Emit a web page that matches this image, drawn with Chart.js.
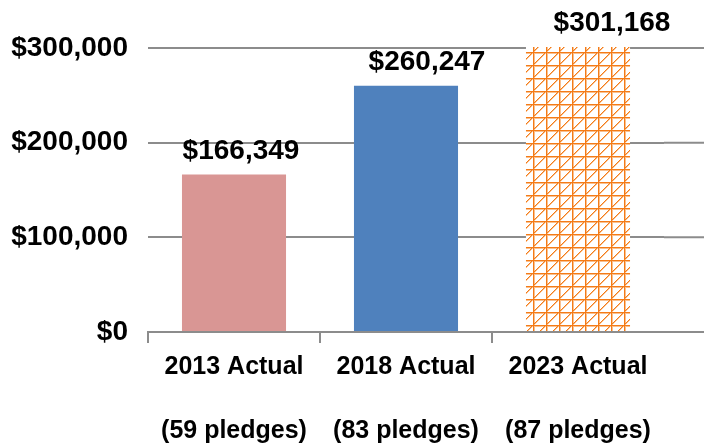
<!DOCTYPE html>
<html>
<head>
<meta charset="utf-8">
<script src="https://cdn.jsdelivr.net/npm/chart.js@4"></script>
<style>
  html, body { margin: 0; padding: 0; background: #fff; overflow: hidden; }
  #wrap { width: 704px; height: 446px; position: relative; }
</style>
</head>
<body>
<div id="wrap"><canvas id="myChart"></canvas></div>
<script>
// chart data
var years = ["2013 Actual", "2018 Actual", "2023 Actual"];
var pledges = ["(59 pledges)", "(83 pledges)", "(87 pledges)"];
var amounts = [166349, 260247, 301168];
var yTicks = [0, 100000, 200000, 300000];

var gridGray = "#8c8c8c";
var fontName = "'Liberation Sans', Arial, sans-serif";

function money(v) {
  return "$" + v.toLocaleString("en-US");
}

// orange crosshatch for the last bar (pixel lines, no smoothing)
function makeHatch() {
  var n = 13;
  var c = document.createElement("canvas");
  c.width = n;
  c.height = n;
  var g = c.getContext("2d");
  g.fillStyle = "#fff";
  g.fillRect(0, 0, n, n);
  // soft edge next to each line
  g.fillStyle = "#f9c08f";
  g.fillRect(1, 0, 1, n);
  g.fillRect(0, 1, n, 1);
  for (var k = 0; k < n; k++) {
    g.fillRect(k, n - k, 1, 1);
  }
  g.fillStyle = "#f47b17";
  g.fillRect(0, 0, 1, n);
  g.fillRect(0, 0, n, 1);
  for (var j = 0; j < n; j++) {
    g.fillRect(j, n - 1 - j, 1, 1);
  }
  return g.createPattern(c, "repeat");
}

// labels: year, blank line, pledge count
var labels = [];
for (var i = 0; i < years.length; i++) {
  labels.push([years[i], "", pledges[i]]);
}

// grid lines run on past the last category to the edge
var extendLines = {
  id: "extendLines",
  beforeDatasetsDraw: function(chart) {
    var ctx = chart.ctx;
    var area = chart.chartArea;
    var y = chart.scales.y;
    ctx.save();
    ctx.strokeStyle = gridGray;
    ctx.lineWidth = 2;
    yTicks.forEach(function(t) {
      var py = y.getPixelForValue(t);
      ctx.beginPath();
      ctx.moveTo(area.right, py);
      ctx.lineTo(chart.width, py);
      ctx.stroke();
    });
    ctx.restore();
  }
};

// value labels over the bars
var valueLabels = {
  id: "valueLabels",
  afterDatasetsDraw: function(chart, args, opts) {
    var ctx = chart.ctx;
    var meta = chart.getDatasetMeta(0);
    ctx.save();
    ctx.font = "bold 28px " + fontName;
    ctx.fillStyle = "#000";
    ctx.textAlign = "center";
    ctx.textBaseline = "alphabetic";
    meta.data.forEach(function(bar, i) {
      ctx.fillText(money(amounts[i]), bar.x + opts.shift[i], bar.y - 16);
    });
    ctx.restore();
  }
};

var lineChart = new Chart(document.getElementById("myChart"), {
  type: "bar",
  data: {
    labels: labels,
    datasets: [{
      data: amounts,
      backgroundColor: ["#d99694", "#4f81bd", makeHatch()],
      borderWidth: 0,
      barPercentage: 1,
      categoryPercentage: 0.605,
      clip: false
    }]
  },
  options: {
    responsive: true,
    maintainAspectRatio: false,
    animation: false,
    layout: { padding: { top: 48, right: 40, bottom: -9, left: 0 } },
    plugins: {
      legend: { display: false },
      tooltip: { enabled: false },
      valueLabels: { shift: [7, 21, 34] }
    },
    scales: {
      x: {
        border: { display: true, color: gridGray, width: 2 },
        grid: {
          offset: true,
          drawOnChartArea: false,
          tickLength: 11,
          lineWidth: 2,
          tickColor: function(c) { return c.index === undefined ? "rgba(0,0,0,0)" : gridGray; }
        },
        ticks: {
          color: "#000",
          padding: 8,
          maxRotation: 0,
          font: { family: fontName, size: 25, weight: "bold", lineHeight: 1.28 }
        }
      },
      y: {
        min: 0,
        max: 300000,
        border: { display: false },
        grid: { color: gridGray, lineWidth: 2, drawTicks: false },
        afterFit: function(scale) { scale.width = 148; },
        ticks: {
          stepSize: 100000,
          padding: 20,
          color: "#000",
          font: { family: fontName, size: 28, weight: "bold" },
          callback: function(v) { return money(v); }
        }
      }
    }
  },
  plugins: [extendLines, valueLabels]
});
</script>
</body>
</html>
